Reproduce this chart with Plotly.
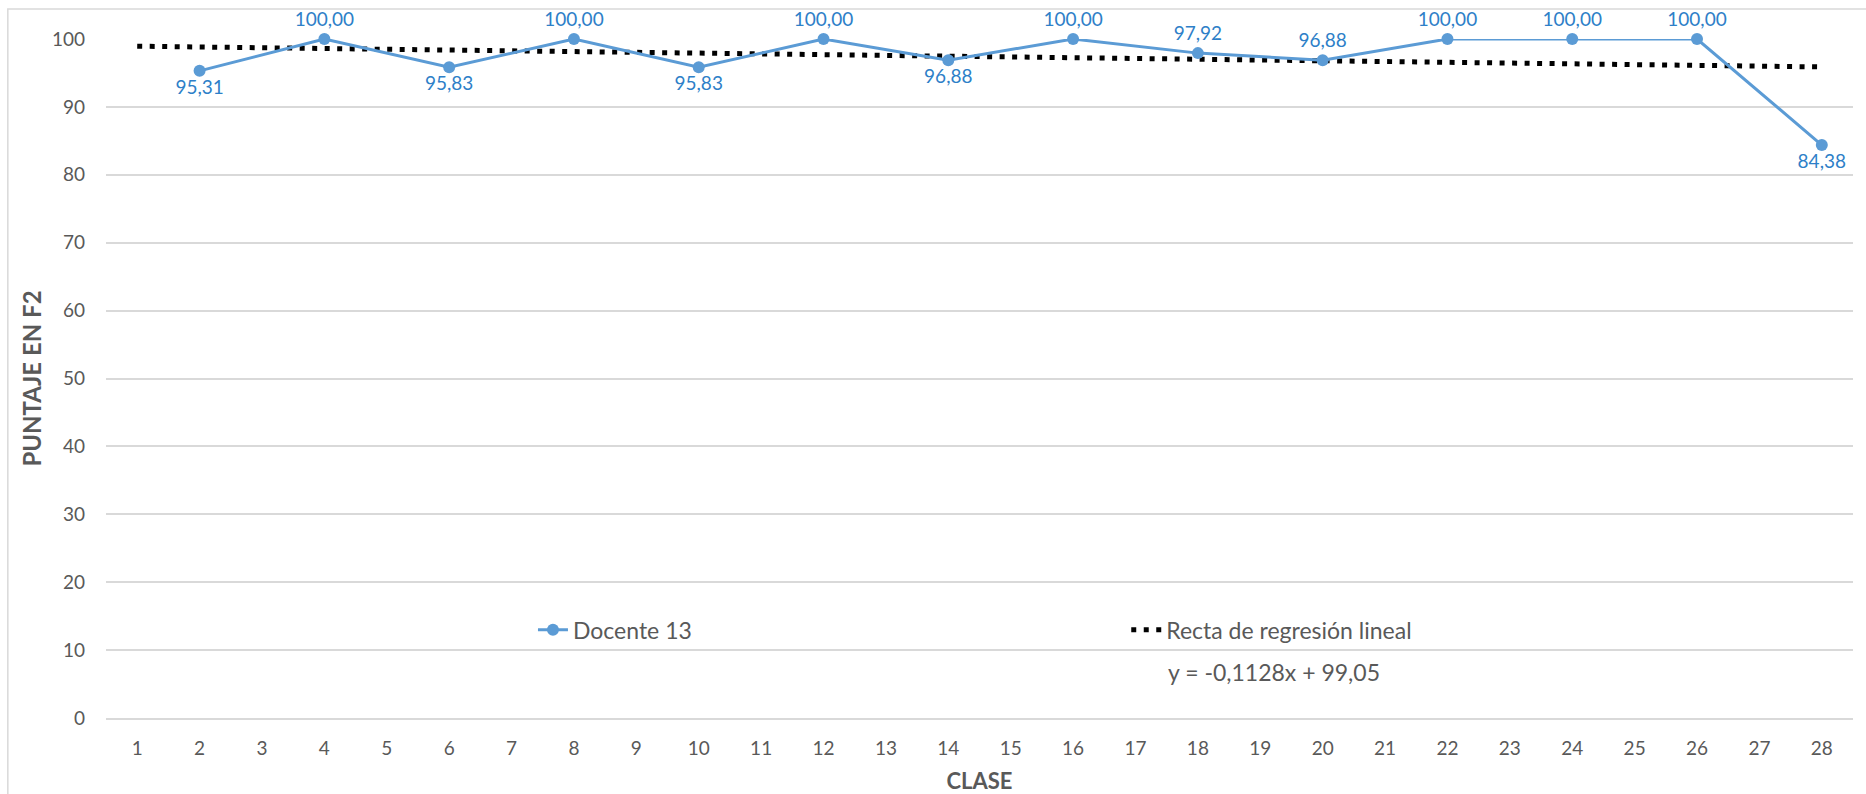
import plotly.graph_objects as go

# Puntaje en F2 por clase (Docente 13)
clases = [2, 4, 6, 8, 10, 12, 14, 16, 18, 20, 22, 24, 26, 28]
puntajes = [95.31, 100.00, 95.83, 100.00, 95.83, 100.00, 96.88,
            100.00, 97.92, 96.88, 100.00, 100.00, 100.00, 84.38]
posiciones = ["bottom center", "top center", "bottom center", "top center",
              "bottom center", "top center", "bottom center", "top center",
              "top center", "top center", "top center", "top center",
              "top center", "bottom center"]

# Recta de regresión lineal
pendiente = -0.1128
intercepto = 99.05
x_reg = [1, 28]
y_reg = [pendiente * x + intercepto for x in x_reg]

x_ticks = list(range(1, 29))
y_ticks = list(range(0, 101, 10))

FONT = "Lato, Calibri, sans-serif"
GRAY = "#595959"
BLUE = "#5B9BD5"
LABEL_BLUE = "#2E7FC8"


def coma(v, dec=2):
    return f"{v:.{dec}f}".replace(".", ",")


fig = go.Figure()

fig.add_trace(go.Scatter(
    x=x_reg, y=y_reg, mode="lines",
    name="Recta de regresión lineal",
    line=dict(color="black", width=5, dash="5px,7.5px"),
    hoverinfo="skip", legend="legend2",
))

fig.add_trace(go.Scatter(
    x=clases, y=puntajes, mode="lines+markers+text",
    name="Docente 13",
    line=dict(color=BLUE, width=3),
    marker=dict(color=BLUE, size=12),
    text=[coma(v) for v in puntajes],
    textposition=posiciones,
    textfont=dict(family=FONT, size=19, color=LABEL_BLUE),
    cliponaxis=False,
    legend="legend",
))

ecuacion = f"y = {coma(pendiente, 4)}x + {coma(intercepto)}"
fig.add_annotation(
    x=0.607, y=0.068, xref="paper", yref="paper",
    xanchor="left", yanchor="middle", showarrow=False,
    text=ecuacion,
    font=dict(family=FONT, size=23, color=GRAY),
)

fig.update_layout(
    width=1866, height=794,
    margin=dict(l=106, r=13, t=39, b=76),
    paper_bgcolor="white", plot_bgcolor="white",
    font=dict(family=FONT, size=19, color=GRAY),
    legend=dict(
        x=0.2444, y=0.13, xanchor="left", yanchor="middle",
        orientation="h", bgcolor="rgba(0,0,0,0)",
        font=dict(family=FONT, size=23, color=GRAY),
        itemwidth=30,
    ),
    legend2=dict(
        x=0.584, y=0.13, xanchor="left", yanchor="middle",
        orientation="h", bgcolor="rgba(0,0,0,0)",
        font=dict(family=FONT, size=23, color=GRAY),
        itemwidth=30,
    ),
    xaxis=dict(
        range=[0.5, 28.5], tickmode="array", tickvals=x_ticks,
        ticktext=[str(t) for t in x_ticks],
        showgrid=False, zeroline=False, automargin=False,
        showline=True, linecolor="#D9D9D9", linewidth=1.5,
        ticks="", ticklabelstandoff=12,
        tickfont=dict(family=FONT, size=19, color=GRAY),
        title=dict(text="<b>CLASE</b>", standoff=16,
                   font=dict(family=FONT, size=22, color=GRAY)),
    ),
    yaxis=dict(
        range=[0, 100], tickmode="array", tickvals=y_ticks,
        showgrid=True, gridcolor="#D9D9D9", gridwidth=1.5,
        zeroline=False, showline=False, ticks="", automargin=False,
        ticklabelstandoff=20,
        tickfont=dict(family=FONT, size=19, color=GRAY),
        title=dict(text="<b>PUNTAJE EN F2</b>", standoff=3,
                   font=dict(family=FONT, size=24, color=GRAY)),
    ),
    showlegend=True,
)

# Marco del gráfico
fig.add_shape(
    type="rect", xref="paper", yref="paper",
    x0=-0.0562, x1=1.2, y0=-0.2, y1=1.0442,
    line=dict(color="#D9D9D9", width=1.5), layer="below",
)

fig.write_html("out.html")
